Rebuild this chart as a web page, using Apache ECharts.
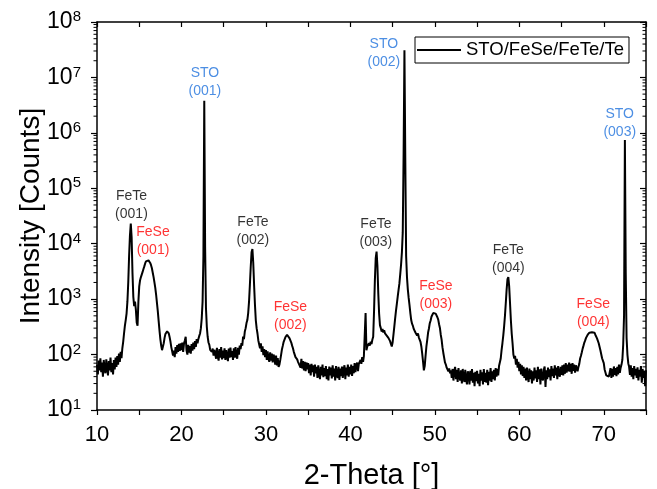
<!DOCTYPE html>
<html lang="en" style="height: 100%">
<head>
  <meta charset="utf-8">
</head>
<body style="height: 100%; margin: 0; background: #fff">
  <div id="container" style="width: 657px; height: 489px"></div>

  <script type="text/javascript" src="https://fastly.jsdelivr.net/npm/echarts@6/dist/echarts.min.js"></script>
  <script type="text/javascript">
// XRD scan, 2-theta from 10.0 to 75.0 deg, 0.1 deg per point (one row = 1 deg)
const thetaStart = 10;
const thetaStep = 0.1;
const counts = [
  66, 44, 78, 52, 86, 48, 72, 40, 80, 54,            // 10
  46, 82, 58, 42, 76, 52, 88, 48, 70, 44,            // 11
  80, 54, 88, 60, 94, 66, 104, 74, 112, 86,          // 12
  130, 170, 240, 330, 420, 550, 900, 2000, 6000, 14000, // 13
  23000, 13000, 3000, 1100, 750, 900, 650, 380, 330, 900, // 14
  1700, 2200, 2500, 2700, 3100, 3500, 3900, 4400, 4800, 5000, // 15
  5100, 5000, 4800, 4500, 4100, 3600, 3000, 2500, 2000, 1600, // 16
  1200, 850, 600, 400, 270, 190, 145, 120, 125, 160, // 17
  200, 235, 255, 262, 258, 240, 205, 170, 135, 115,  // 18
  96, 118, 90, 136, 104, 148, 112, 156, 116, 160,    // 19
  120, 165, 112, 158, 180, 210, 118, 100, 150, 108,  // 20
  142, 104, 155, 118, 165, 125, 175, 138, 190, 160,  // 21
  190, 215, 240, 300, 450, 900, 6000, 3800000, 9000, 700, // 22
  320, 210, 165, 150, 122, 130, 112, 128, 96, 122,   // 23
  124, 84, 132, 92, 78, 126, 88, 136, 82, 118,       // 24
  86, 130, 80, 120, 94, 76, 128, 88, 134, 90,        // 25
  116, 80, 130, 88, 136, 96, 84, 132, 100, 145,      // 26
  125, 160, 145, 210, 190, 260, 300, 370, 420, 560,  // 27
  900, 1800, 3800, 7000, 8000, 4500, 1800, 800, 420, 300, // 28
  240, 180, 175, 130, 160, 112, 140, 98, 126, 90,    // 29
  120, 80, 114, 84, 74, 110, 78, 104, 72, 100,       // 30
  90, 66, 96, 64, 86, 60, 66, 80, 100, 125,          // 31
  145, 170, 178, 205, 208, 228, 218, 222, 196, 190,  // 32
  165, 145, 130, 112, 104, 90, 86, 82, 74, 76,       // 33
  72, 58, 84, 56, 76, 52, 74, 50, 72, 54,            // 34
  70, 46, 66, 42, 68, 48, 64, 40, 66, 46,            // 35
  60, 38, 64, 44, 36, 60, 42, 66, 39, 57,            // 36
  41, 62, 36, 55, 34, 61, 42, 58, 37, 64,            // 37
  40, 56, 34, 62, 43, 38, 60, 35, 56, 41,            // 38
  61, 38, 54, 64, 36, 58, 42, 66, 40, 60,            // 39
  44, 66, 41, 62, 46, 70, 48, 64, 72, 50,            // 40
  68, 64, 80, 68, 90, 74, 95, 100, 560, 120,         // 41
  140, 130, 160, 145, 170, 155, 185, 210, 600, 2200, // 42
  5500, 7200, 4000, 1300, 550, 340, 300, 260, 290, 250, // 43
  275, 240, 260, 220, 235, 200, 210, 175, 155, 140,  // 44
  165, 230, 320, 450, 620, 820, 1100, 1450, 1900, 2800, // 45
  4200, 7000, 16000, 400000, 31000000, 350000, 6000, 2500, 1500, 1050, // 46
  780, 560, 420, 360, 330, 290, 300, 250, 265, 220,  // 47
  240, 205, 215, 170, 140, 105, 75, 52, 62, 95,      // 48
  140, 185, 250, 295, 368, 412, 482, 512, 560, 555,  // 49
  575, 548, 532, 472, 428, 352, 302, 228, 186, 136,  // 50
  108, 88, 72, 66, 58, 62, 50, 56, 46, 52,           // 51
  38, 55, 34, 51, 60, 36, 53, 32, 57, 40,            // 52
  34, 52, 30, 55, 38, 32, 53, 36, 29, 50,            // 53
  44, 29, 51, 34, 55, 31, 47, 27, 49, 33,            // 54
  51, 30, 45, 27, 53, 34, 48, 29, 55, 32,            // 55
  47, 31, 53, 28, 49, 34, 57, 32, 50, 36,            // 56
  53, 34, 57, 40, 55, 42, 62, 65, 85, 120,           // 57
  160, 220, 320, 500, 850, 1500, 2300, 2500, 1700, 850, // 58
  420, 240, 160, 100, 85, 95, 66, 84, 58, 74,        // 59
  50, 68, 44, 64, 41, 60, 38, 56, 34, 58,            // 60
  40, 32, 56, 36, 52, 30, 50, 34, 58, 37,            // 61
  52, 32, 60, 36, 54, 29, 56, 38, 34, 53,            // 62
  61, 26, 52, 36, 58, 39, 54, 34, 62, 41,            // 63
  56, 38, 64, 42, 58, 36, 62, 44, 40, 60,            // 64
  43, 64, 42, 66, 45, 70, 47, 66, 50, 72,            // 65
  49, 68, 45, 70, 51, 66, 47, 64, 68, 50,            // 66
  60, 68, 85, 95, 110, 128, 145, 165, 180, 200,      // 67
  212, 228, 232, 248, 246, 262, 252, 260, 244, 248,  // 68
  228, 220, 196, 186, 160, 150, 120, 112, 86, 80,    // 69
  70, 54, 56, 42, 44, 43, 40, 40, 57, 38,            // 70
  55, 40, 61, 43, 57, 41, 60, 44, 66, 47,            // 71
  58, 66, 80, 150, 500, 740000, 3000, 200, 100, 70,  // 72
  60, 43, 64, 40, 57, 36, 62, 42, 55, 38,            // 73
  59, 34, 53, 40, 62, 31, 55, 38, 51, 27,            // 74
  52                                                 // 75
];

// peak labels, placed at [2-theta, counts]
const peakNames = ['FeTe\n(001)', 'FeSe\n(001)', 'STO\n(001)', 'FeTe\n(002)', 'FeSe\n(002)', 'FeTe\n(003)',
  'STO\n(002)', 'FeSe\n(003)', 'FeTe\n(004)', 'FeSe\n(004)', 'STO\n(003)'];
const peakTheta = [14.08, 16.63, 22.78, 28.46, 32.9, 43.02, 43.96, 50.12, 58.7, 68.76, 71.89];
const peakCounts = [50000, 11200, 8.3e6, 17000, 500, 15600, 2.76e7, 1190, 5300, 565, 1.5e6];
const peakPhase = ['FeTe', 'FeSe', 'STO', 'FeTe', 'FeSe', 'FeTe', 'STO', 'FeSe', 'FeTe', 'FeSe', 'STO'];
const phaseColor = { FeTe: '#000000', FeSe: '#ff0000', STO: '#1f72dc' };

const seriesName = 'STO/FeSe/FeTe/Te';

// minor ticks of the log axis (2..9 in each decade)
const minorTicks = [];
for (let d = 1; d < 8; d++) {
  for (let m = 2; m <= 9; m++) minorTicks.push(m * Math.pow(10, d));
}

const scan = counts.map(function (c, i) {
  return [+(thetaStart + i * thetaStep).toFixed(1), c];
});

const font = "'Liberation Sans', Arial, sans-serif";

var dom = document.getElementById('container');
var myChart = echarts.init(dom, null, { renderer: 'canvas' });

var option = {
  animation: false,
  backgroundColor: '#ffffff',
  textStyle: { fontFamily: font },
  grid: { left: 97, right: 11, top: 22, bottom: 79, containLabel: false, outerBoundsMode: 'none' },
  legend: {
    data: [{ name: seriesName, icon: 'rect' }],
    left: 415,
    top: 37,
    padding: [3, 5, 3, 2],
    itemWidth: 44,
    itemHeight: 2,
    itemGap: 5,
    borderColor: '#000',
    borderWidth: 1,
    textStyle: { fontSize: 18.5, color: '#000', fontFamily: font, lineHeight: 20 }
  },
  xAxis: [
    {
      type: 'value',
      min: 10,
      max: 75,
      interval: 5,
      name: '2-Theta [°]',
      nameLocation: 'middle',
      nameGap: 51,
      nameMoveOverlap: false,
      nameTextStyle: { fontSize: 29, color: '#000', fontFamily: font },
      axisLine: { lineStyle: { color: '#000', width: 1.5 } },
      axisTick: { inside: false, length: 5, lineStyle: { color: '#000', width: 1.2 } },
      axisLabel: {
        fontSize: 22, color: '#000', margin: 14, fontFamily: font,
        formatter: function (v) { return v % 10 === 0 && v < 75 ? String(v) : ''; }
      },
      splitLine: { show: false }
    },
    {
      type: 'value',
      position: 'top',
      min: 10,
      max: 75,
      interval: 5,
      axisLine: { lineStyle: { color: '#000', width: 1.5 } },
      axisTick: { inside: true, length: 5, lineStyle: { color: '#000', width: 1.2 } },
      axisLabel: { show: false },
      splitLine: { show: false }
    }
  ],
  yAxis: [
    {
      type: 'log',
      logBase: 10,
      min: 10,
      max: 1e8,
      name: 'Intensity [Counts]',
      nameLocation: 'middle',
      nameGap: 52,
      nameMoveOverlap: false,
      nameTextStyle: { fontSize: 28, color: '#000', fontFamily: font },
      axisLine: { show: true, lineStyle: { color: '#000', width: 1.5 } },
      axisTick: { show: true, inside: false, length: 6, lineStyle: { color: '#000', width: 1.2 } },
      axisLabel: {
        margin: 16,
        formatter: function (v) {
          return '{b|10}{e|' + Math.round(Math.log10(v)) + '}';
        },
        rich: {
          b: { fontSize: 23, color: '#000', fontFamily: font },
          e: { fontSize: 15, color: '#000', fontFamily: font, padding: [0, 0, 10, 0] }
        }
      },
      splitLine: { show: false }
    },
    {
      type: 'log',
      logBase: 10,
      min: 10,
      max: 1e8,
      position: 'right',
      axisLine: { show: true, lineStyle: { color: '#000', width: 1.5 } },
      axisTick: { show: true, inside: true, length: 6, lineStyle: { color: '#000', width: 1.2 } },
      axisLabel: { show: false },
      splitLine: { show: false }
    }
  ],
  series: [
    {
      name: seriesName,
      type: 'line',
      data: scan,
      symbol: 'none',
      lineStyle: { color: '#000', width: 2 },
      itemStyle: { color: '#000' },
      z: 3
    },
    {
      type: 'custom',
      silent: true,
      data: minorTicks.map(function (v) { return [10, v]; }),
      encode: { x: 0, y: 1 },
      renderItem: function (params, api) {
        var v = api.value(1);
        var pl = api.coord([10, v]);
        var pr = api.coord([75, v]);
        return {
          type: 'group',
          children: [
            { type: 'line', shape: { x1: pl[0] - 3.5, y1: pl[1], x2: pl[0], y2: pl[1] }, style: { stroke: '#000', lineWidth: 1 } },
            { type: 'line', shape: { x1: pr[0] - 3.5, y1: pr[1], x2: pr[0], y2: pr[1] }, style: { stroke: '#000', lineWidth: 1 } }
          ]
        };
      },
      z: 4
    },
    {
      type: 'scatter',
      silent: true,
      symbolSize: 1,
      itemStyle: { color: 'rgba(0,0,0,0)' },
      labelLayout: { hideOverlap: false },
      data: peakNames.map(function (n, i) {
        return {
          name: n,
          value: [peakTheta[i], peakCounts[i]],
          label: { color: phaseColor[peakPhase[i]] }
        };
      }),
      label: {
        show: true,
        position: 'inside',
        formatter: '{b}',
        fontSize: 14,
        lineHeight: 18,
        align: 'center',
        verticalAlign: 'middle',
        fontFamily: font
      },
      z: 5
    }
  ]
};

myChart.setOption(option);
window.addEventListener('resize', myChart.resize);
  </script>
</body>
</html>
